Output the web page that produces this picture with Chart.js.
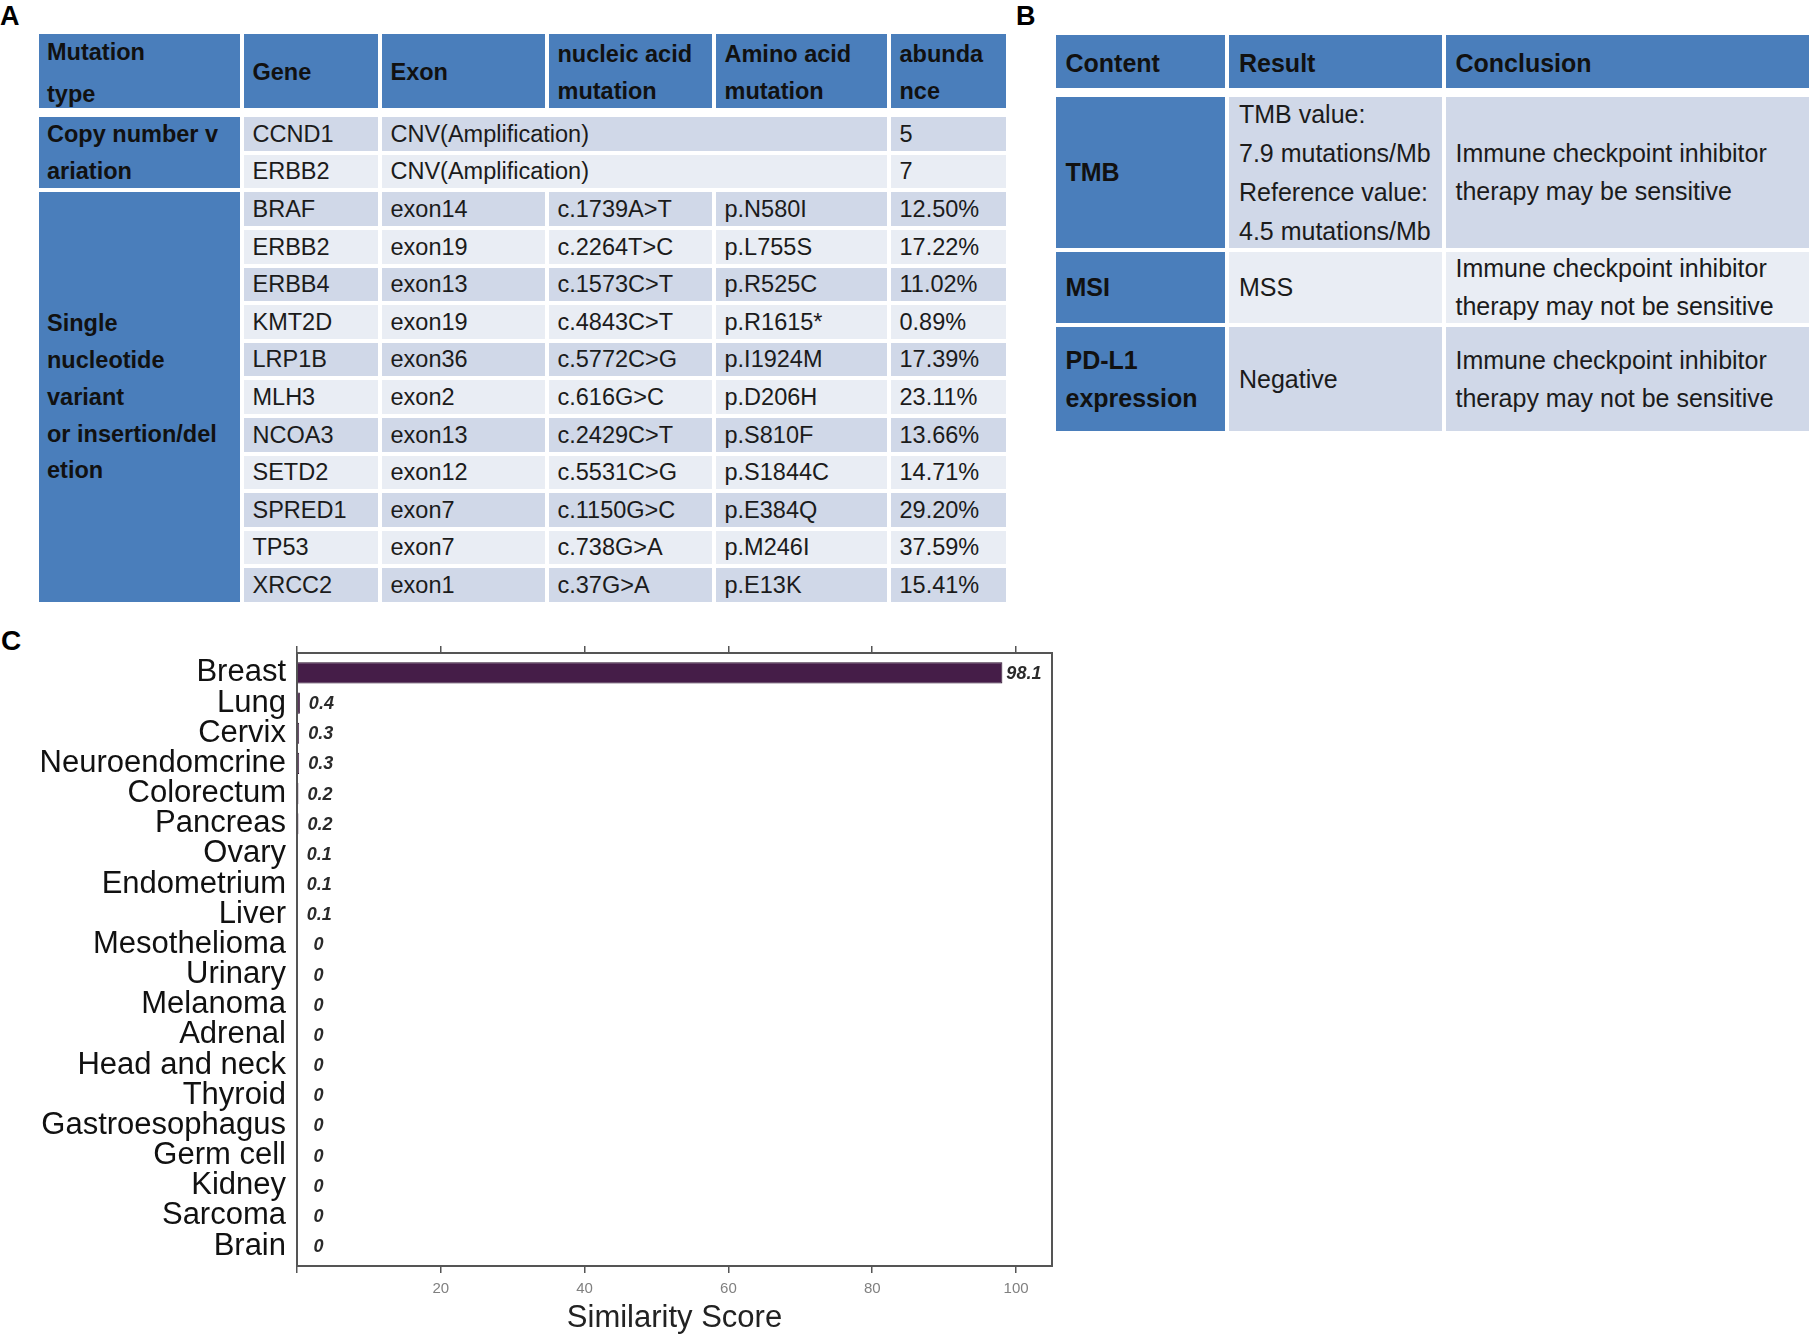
<!DOCTYPE html>
<html>
<head>
<meta charset="utf-8">
<title>Mutation report</title>
<script src="https://cdn.jsdelivr.net/npm/chart.js@4.4.1/dist/chart.umd.min.js"></script>
<style>
  html, body { margin: 0; padding: 0; background: #fff; }
  body { width: 1809px; height: 1338px; position: relative; overflow: hidden;
         font-family: 'Liberation Sans', Arial, sans-serif; color: #1b1b1b; }
  .panel { position: absolute; font-weight: bold; line-height: 1; color: #000; }
  .grid { position: absolute; display: grid; column-gap: 4px; row-gap: 4px; }
  .grid div { display: flex; align-items: center; padding-left: 8.5px; box-sizing: border-box;
              white-space: pre; }
  .hd, .c1 { background: #4a7ebb; font-weight: bold; color: #111; }
  .hd { padding-top: 3px; }
  .lt { background: #d0d8e8; }
  .xl { background: #e9edf4; }
  #tblA { left: 38.5px; top: 34px; font-size: 23.5px; line-height: 36.7px;
          grid-template-columns: 201.5px 134px 163px 163px 171px 114.5px;
          grid-template-rows: 74px 1.3px repeat(13, 33.6px); }
  #tblA .wide { line-height: 42px; }
  #tblB { left: 1055.5px; top: 35px; font-size: 25px; line-height: 38px;
          grid-template-columns: 169.5px 212.5px 363.5px;
          grid-template-rows: 53.3px 1px 150.4px 71.6px 103.7px; }
  #tblB div { padding-left: 10px; }
  #tblB .tall { line-height: 39px; }
  #chartBox { position: absolute; left: 0; top: 600px; width: 1100px; height: 738px; }
</style>
</head>
<body>
<div class="panel" style="left:0;top:3px;font-size:27px">A</div>
<div class="panel" style="left:1016px;top:3px;font-size:27px">B</div>
<div class="panel" style="left:1px;top:627px;font-size:28px">C</div>

<div id="tblA" class="grid"></div>
<div id="tblB" class="grid"></div>

<div id="chartBox"><canvas id="chart-similarity"></canvas></div>

<script>
// ── Panel A: mutation table
const headA   = ['Mutation\ntype', 'Gene', 'Exon', 'nucleic acid\nmutation', 'Amino acid\nmutation', 'abunda\nnce'];
const cnvRows = [
  ['CCND1', 'CNV(Amplification)', '5'],
  ['ERBB2', 'CNV(Amplification)', '7']
];
const snvRows = [
  ['BRAF',   'exon14', 'c.1739A>T', 'p.N580I',  '12.50%'],
  ['ERBB2',  'exon19', 'c.2264T>C', 'p.L755S',  '17.22%'],
  ['ERBB4',  'exon13', 'c.1573C>T', 'p.R525C',  '11.02%'],
  ['KMT2D',  'exon19', 'c.4843C>T', 'p.R1615*', '0.89%'],
  ['LRP1B',  'exon36', 'c.5772C>G', 'p.I1924M', '17.39%'],
  ['MLH3',   'exon2',  'c.616G>C',  'p.D206H',  '23.11%'],
  ['NCOA3',  'exon13', 'c.2429C>T', 'p.S810F',  '13.66%'],
  ['SETD2',  'exon12', 'c.5531C>G', 'p.S1844C', '14.71%'],
  ['SPRED1', 'exon7',  'c.1150G>C', 'p.E384Q',  '29.20%'],
  ['TP53',   'exon7',  'c.738G>A',  'p.M246I',  '37.59%'],
  ['XRCC2',  'exon1',  'c.37G>A',   'p.E13K',   '15.41%']
];

// ── Panel B: biomarker table
const headB = ['Content', 'Result', 'Conclusion'];
const bioRows = [
  ['TMB', 'TMB value:\n7.9 mutations/Mb\nReference value:\n4.5 mutations/Mb', 'Immune checkpoint inhibitor\ntherapy may be sensitive'],
  ['MSI', 'MSS', 'Immune checkpoint inhibitor\ntherapy may not be sensitive'],
  ['PD-L1\nexpression', 'Negative', 'Immune checkpoint inhibitor\ntherapy may not be sensitive']
];

// ── Panel C: tissue similarity
const tissues = ['Breast', 'Lung', 'Cervix', 'Neuroendomcrine', 'Colorectum', 'Pancreas', 'Ovary',
                 'Endometrium', 'Liver', 'Mesothelioma', 'Urinary', 'Melanoma', 'Adrenal',
                 'Head and neck', 'Thyroid', 'Gastroesophagus', 'Germ cell', 'Kidney', 'Sarcoma', 'Brain'];
const scores  = [98.1, 0.4, 0.3, 0.3, 0.2, 0.2, 0.1, 0.1, 0.1, 0, 0, 0, 0, 0, 0, 0, 0, 0, 0, 0];
const scoreTicks = [0, 20, 40, 60, 80, 100];

function cell(tbl, row, col, text, cls, rowSpan = 1, colSpan = 1) {
  const d = document.createElement('div');
  d.className = cls;
  d.style.gridRow = `${row} / span ${rowSpan}`;
  d.style.gridColumn = `${col} / span ${colSpan}`;
  d.textContent = text;
  tbl.appendChild(d);
  return d;
}

const tA = document.getElementById('tblA');
headA.forEach((h, i) => {
  const d = cell(tA, 1, i + 1, h, 'hd');
  if (i === 0) d.classList.add('wide');
});
cell(tA, 3, 1, 'Copy number v\nariation', 'c1', cnvRows.length);
cnvRows.forEach((r, k) => {
  const shade = k % 2 ? 'xl' : 'lt';
  cell(tA, 3 + k, 2, r[0], shade);
  cell(tA, 3 + k, 3, r[1], shade, 1, 3);
  cell(tA, 3 + k, 6, r[2], shade);
});
const snvStart = 3 + cnvRows.length;
cell(tA, snvStart, 1, 'Single\nnucleotide\nvariant\nor insertion/del\netion', 'c1', snvRows.length);
snvRows.forEach((r, k) => {
  const shade = (k + cnvRows.length) % 2 ? 'xl' : 'lt';
  r.forEach((v, j) => cell(tA, snvStart + k, j + 2, v, shade));
});

const tB = document.getElementById('tblB');
headB.forEach((h, i) => cell(tB, 1, i + 1, h, 'hd'));
bioRows.forEach((r, k) => {
  const shade = k % 2 ? 'xl' : 'lt';
  cell(tB, 3 + k, 1, r[0], 'c1');
  const res = cell(tB, 3 + k, 2, r[1], shade);
  if (k === 0) res.classList.add('tall');
  cell(tB, 3 + k, 3, r[2], shade);
});

// ── Chart
Chart.defaults.font.family = "'Liberation Sans', Arial, sans-serif";

const barLabels = {
  id: 'barLabels',
  afterDatasetsDraw(chart) {
    const ctx = chart.ctx;
    const meta = chart.getDatasetMeta(0);
    ctx.save();
    ctx.font = 'italic bold 18px "Liberation Sans", Arial, sans-serif';
    ctx.fillStyle = '#2a2a2a';
    ctx.textAlign = 'center';
    ctx.textBaseline = 'middle';
    meta.data.forEach((bar, i) => ctx.fillText(String(scores[i]), bar.x + 21.5, bar.y + 1));
    ctx.restore();
  }
};

const axisGrey = '#555';

new Chart(document.getElementById('chart-similarity'), {
  type: 'bar',
  data: {
    datasets: [{
      data: scores.map((v, i) => ({ x: v, y: i })),
      backgroundColor: '#451d48',
      borderColor: '#2a0f2c',
      borderWidth: 1,
      barPercentage: 0.7,
      categoryPercentage: 1
    }]
  },
  options: {
    indexAxis: 'y',
    responsive: true,
    maintainAspectRatio: false,
    animation: false,
    layout: { padding: { left: 0, right: 48, top: 0, bottom: 0 } },
    plugins: { legend: { display: false }, tooltip: { enabled: false } },
    scales: {
      x: {
        type: 'linear', axis: 'x', position: 'bottom', min: 0, max: 105,
        afterBuildTicks: s => { s.ticks = scoreTicks.map(v => ({ value: v })); },
        afterFit: s => { s.height = 72; },
        ticks: { color: '#808080', font: { size: 15 }, padding: 7, maxRotation: 0, autoSkip: false,
                 callback: v => v === 0 ? '' : String(v) },
        grid: { display: true, drawOnChartArea: false, drawTicks: true, tickLength: 7, color: axisGrey, lineWidth: 1.5 },
        border: { display: true, color: axisGrey, width: 2 },
        title: { display: true, text: 'Similarity Score', color: '#222', font: { size: 31 },
                 padding: { top: 0, bottom: 1 } }
      },
      x2: {
        type: 'linear', axis: 'x', position: 'top', min: 0, max: 105,
        afterBuildTicks: s => { s.ticks = scoreTicks.map(v => ({ value: v })); },
        afterFit: s => { s.height = 53; },
        ticks: { autoSkip: false, padding: 0, callback: () => '' },
        grid: { display: true, drawOnChartArea: false, drawTicks: true, tickLength: 7, color: axisGrey, lineWidth: 1.5 },
        border: { display: true, color: axisGrey, width: 2 }
      },
      y: {
        type: 'linear', axis: 'y', position: 'left', reverse: true, offset: false,
        min: -0.66, max: 19.66,
        afterBuildTicks: s => { s.ticks = tissues.map((_, i) => ({ value: i })); },
        afterFit: s => { s.width = 297; },
        ticks: { autoSkip: false, padding: 11, color: '#111', font: { size: 31 },
                 callback: v => tissues[v] },
        grid: { display: false, drawTicks: false },
        border: { display: true, color: axisGrey, width: 2 }
      },
      y2: {
        type: 'linear', axis: 'y', position: 'right',
        afterFit: s => { s.width = 0; },
        ticks: { display: false },
        grid: { display: false, drawTicks: false },
        border: { display: true, color: axisGrey, width: 2 }
      }
    }
  },
  plugins: [barLabels]
});
</script>
</body>
</html>
